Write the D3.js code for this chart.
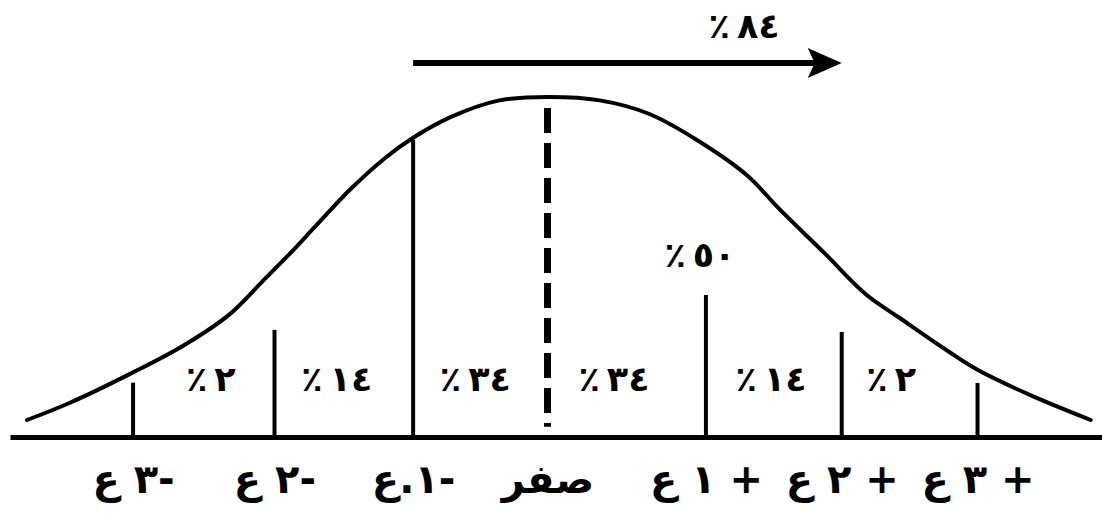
<!DOCTYPE html>
<html>
<head>
<meta charset="utf-8">
<script src="https://cdn.jsdelivr.net/npm/d3@7"></script>
<style>
  body { margin: 0; background: #fff; }
  svg text { font-family: "DejaVu Sans", sans-serif; font-weight: bold; fill: #000; }
</style>
</head>
<body>
<div id="chart"></div>
<script>
// bell curve: x in sigma units, height as share of the peak
const curveZ = [-3.74, -3.44, -2.99, -2.63, -2.31, -2.07, -1.88, -1.70, -1.45, -1.21, -1.01, -0.75, -0.40, -0.05,
  0.31, 0.66, 1.01, 1.35, 1.58, 1.90, 2.19, 2.43, 2.78, 2.97, 3.37, 3.78]
const curveH = [0.05, 0.10, 0.19, 0.27, 0.36, 0.46, 0.54, 0.62, 0.73, 0.82, 0.88, 0.94, 0.99, 1.00,
  0.99, 0.95, 0.87, 0.77, 0.67, 0.54, 0.42, 0.35, 0.25, 0.20, 0.12, 0.05]

// vertical marks on the base line (where they stand and how high they go)
const markZ = [-2.99, -1.99, -1.01, -0.06, 1.06, 2.02, 2.98]
const markTop = [0.16, 0.315, 0.874, 0.968, 0.418, 0.309, 0.159]
const markLabels = ['-٣ ع', '-٢ ع', '-١.ع', 'صفر', '+ ١ ع', '+ ٢ ع', '+ ٣ ع']

// share of cases between the marks
const bandZ = [-2.44, -1.55, -0.57, 0.41, 1.52, 2.37]
const bandLabels = ['٢\u2009٪', '١٤\u2009٪', '٣٤\u2009٪', '٣٤\u2009٪', '١٤\u2009٪', '٢\u2009٪']

const halfLabel = '٥٠\u2009٪'
const arrowLabel = '٨٤\u2009٪'
const arrowFrom = -1.01
const arrowTo = 2.02

const width = 1102
const height = 523

const xScale = d3.scaleLinear()
  .domain([-3.86, 3.86])
  .range([10, width])
const yScale = d3.scaleLinear()
  .domain([0, 1])
  .range([437, 97])

const svg = d3.select('#chart')
  .append('svg')
  .attr('width', width)
  .attr('height', height)

// base line with the sigma labels under it
const xAxis = d3.axisBottom(xScale)
  .tickValues(markZ)
  .tickFormat((d, i) => markLabels[i])
  .tickSize(0)
  .tickSizeOuter(0)

const axis = svg.append('g')
  .attr('transform', `translate(0, ${yScale(0)})`)
  .call(xAxis)
axis.select('.domain')
  .attr('stroke', '#000')
  .attr('stroke-width', 5)
axis.selectAll('text')
  .attr('y', 56)
  .attr('dy', null)
  .attr('direction', 'rtl')
  .style('font-size', '40px')
  .style('font-family', '"DejaVu Sans", sans-serif')
  .style('font-weight', 'bold')

// the curve
const line = d3.line()
  .x(d => xScale(d[0]))
  .y(d => yScale(d[1]))
  .curve(d3.curveCatmullRom.alpha(0.5))

svg.append('path')
  .datum(d3.zip(curveZ, curveH))
  .attr('d', line)
  .attr('fill', 'none')
  .attr('stroke', '#000')
  .attr('stroke-width', 4)
  .attr('stroke-linecap', 'round')

// marks (the mean one is dashed)
svg.selectAll('.mark')
  .data(d3.zip(markZ, markTop))
  .enter()
  .append('line')
  .attr('class', 'mark')
  .attr('x1', d => xScale(d[0]))
  .attr('x2', d => xScale(d[0]))
  .attr('y1', d => yScale(d[1]))
  .attr('y2', (d, i) => i === 3 ? yScale(0.03) : yScale(0))
  .attr('stroke', '#000')
  .attr('stroke-width', (d, i) => i === 3 ? 7 : 4)
  .attr('stroke-dasharray', (d, i) => i === 3 ? '25 10' : null)

svg.selectAll('.band')
  .data(bandZ)
  .enter()
  .append('text')
  .attr('class', 'band')
  .attr('x', d => xScale(d))
  .attr('y', yScale(0.135))
  .attr('text-anchor', 'middle')
  .attr('direction', 'rtl')
  .style('font-size', '35px')
  .text((d, i) => bandLabels[i])

svg.append('text')
  .attr('x', xScale(markZ[4]) - 6)
  .attr('y', yScale(markTop[4]) - 28)
  .attr('text-anchor', 'middle')
  .attr('direction', 'rtl')
  .style('font-size', '35px')
  .text(halfLabel)

// 84% arrow on top
const ay = yScale(1.1)
const ax1 = xScale(arrowFrom)
const ax2 = xScale(arrowTo)
svg.append('line')
  .attr('x1', ax1)
  .attr('x2', ax2 - 20)
  .attr('y1', ay)
  .attr('y2', ay)
  .attr('stroke', '#000')
  .attr('stroke-width', 6)
svg.append('path')
  .attr('d', `M${ax2},${ay} L${ax2 - 34},${ay - 15} L${ax2 - 27},${ay} L${ax2 - 34},${ay + 15} Z`)
  .attr('fill', '#000')

svg.append('text')
  .attr('x', xScale(1.33))
  .attr('y', yScale(1.175))
  .attr('text-anchor', 'middle')
  .attr('direction', 'rtl')
  .style('font-size', '35px')
  .text(arrowLabel)
</script>
</body>
</html>
